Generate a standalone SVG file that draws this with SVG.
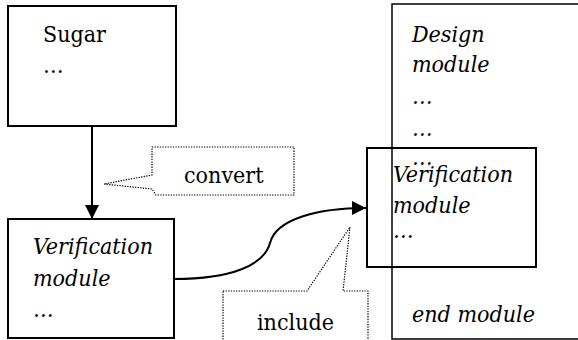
<svg xmlns="http://www.w3.org/2000/svg" width="578" height="340" viewBox="0 0 578 340">
  <style>
    .box { fill: none; stroke: #000; stroke-width: 2; }
    .thin { fill: none; stroke: #000; stroke-width: 1.5; }
    .call { fill: #fff; stroke: #000; stroke-width: 1.2; stroke-dasharray: 1.3 1.3; }
    .wire { fill: none; stroke: #000; stroke-width: 2; }
    .t { font-family: "DejaVu Serif", serif; font-stretch: condensed; font-size: 23px; fill: #000; }
    .it { font-style: italic; }
  </style>
  <defs>
    <marker id="arrow" markerWidth="14" markerHeight="14" refX="14" refY="7" orient="auto" markerUnits="userSpaceOnUse">
      <path d="M0,0 L14,7 L0,14 Z" fill="#000"/>
    </marker>
  </defs>
  <rect width="578" height="340" fill="#fff"/>

  <!-- design module container -->
  <g id="design-module">
    <rect class="thin" x="392" y="4" width="200" height="335"/>
    <text class="t it" x="412" y="42">Design</text>
    <text class="t it" x="412" y="72">module</text>
    <text class="t it" x="412" y="104">…</text>
    <text class="t it" x="412" y="136">…</text>
    <text class="t it" x="412" y="165">…</text>
    <text class="t it" x="412" y="322">end module</text>
  </g>

  <!-- verification module included in design -->
  <g id="included-verification">
    <rect class="box" x="367" y="148" width="169" height="119"/>
    <text class="t it" x="393" y="182">Verification</text>
    <text class="t it" x="393" y="213">module</text>
    <text class="t it" x="393" y="238">…</text>
  </g>

  <g id="sugar">
    <rect class="box" x="8" y="6" width="168" height="120"/>
    <text class="t" x="43" y="42">Sugar</text>
    <text class="t" x="43" y="73">…</text>
  </g>

  <g id="verification">
    <rect class="box" x="8" y="219" width="166" height="119"/>
    <text class="t it" x="33" y="254">Verification</text>
    <text class="t it" x="33" y="286">module</text>
    <text class="t it" x="33" y="317">…</text>
  </g>

  <g id="connectors">
    <line class="wire" x1="92" y1="126" x2="92" y2="219" marker-end="url(#arrow)"/>
    <path class="wire" d="M174,279 C232,279 264,265 270,243 C276,219 318,208 366,208" marker-end="url(#arrow)"/>
  </g>

  <g id="convert-label">
    <path class="call" d="M152,147 H294 V195 H156 L152,189 L104,184 L152,175 Z"/>
    <text class="t" x="184" y="183">convert</text>
  </g>

  <g id="include-label">
    <path class="call" d="M223,291 H307 L350,227 L343,291 H368 V345 H223 Z"/>
    <text class="t" x="257" y="330">include</text>
  </g>
</svg>
